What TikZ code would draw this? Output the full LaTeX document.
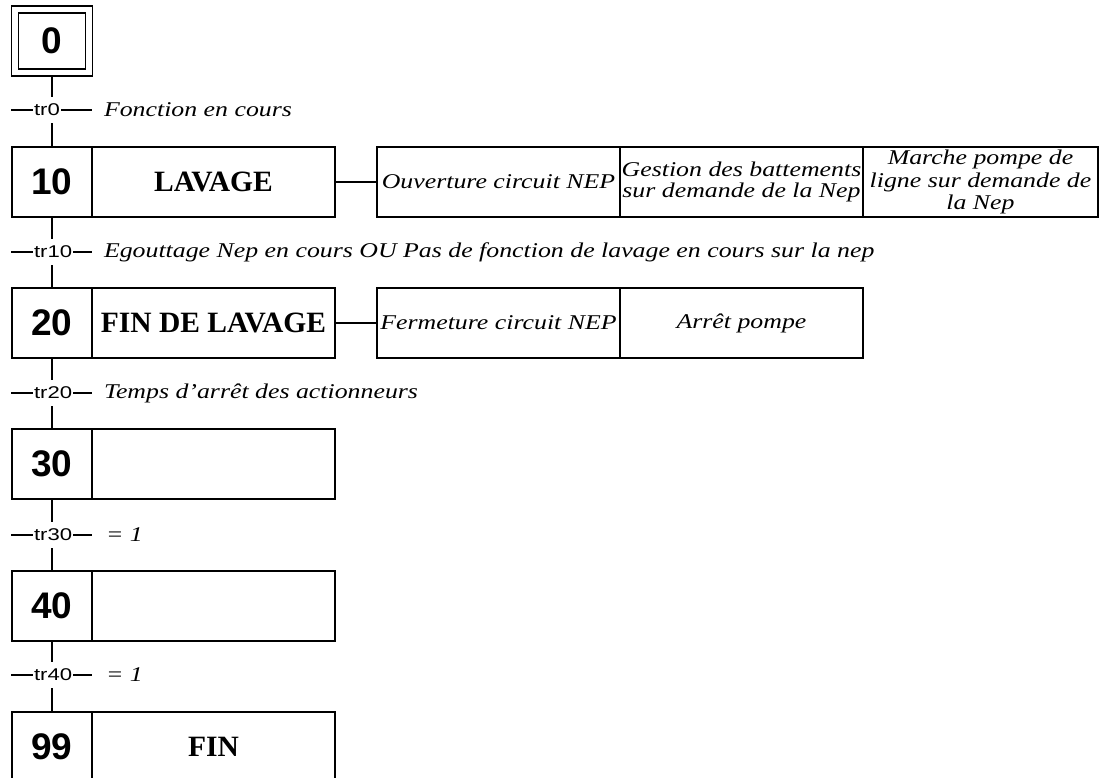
\documentclass[tikz,border=0pt]{standalone}
\usepackage{fontspec}
\setmainfont{Liberation Serif}
\setsansfont{Liberation Sans}
\newfontfamily\condfont[FakeStretch=1.23]{Liberation Serif}
\newfontfamily\trfont[FakeStretch=1.3]{Liberation Sans}
\newfontfamily\numfont{Liberation Sans}
\begin{document}
\begin{tikzpicture}[x=1pt,y=-1pt,
  every node/.style={outer sep=0pt},
  box/.style={draw, line width=2pt, minimum height=70pt, inner sep=0pt},
  stepnum/.style={box, minimum width=80pt, font=\numfont\bfseries\fontsize{37}{37}\selectfont},
  stepname/.style={box, minimum width=243pt, anchor=west, font=\bfseries\fontsize{29.5}{30}\selectfont},
  action/.style={box, minimum width=243pt, anchor=west, align=center, inner xsep=1pt,
    font=\condfont\itshape\fontsize{21}{21.5}\selectfont},
  link/.style={line width=2pt},
  trlabel/.style={fill=white, inner xsep=1pt, inner ysep=7pt, anchor=west,
    font=\trfont\fontsize{17}{17}\selectfont},
  cond/.style={anchor=west, inner sep=0pt, font=\condfont\itshape\fontsize{21}{22}\selectfont}]
\clip (0,0) rectangle (1099,778);
\fill[white] (0,0) rectangle (1099,778);

% initial step
\node[draw, line width=1.8pt, minimum width=81pt, minimum height=70pt] (s0) at (52,41) {};
\node[draw, line width=1.8pt, minimum width=67pt, minimum height=56pt, inner sep=0pt,
  font=\numfont\bfseries\fontsize{37}{37}\selectfont] (n0) at (s0) {0};

% steps
\node[stepnum] (n10) at (52,182) {10};
\node[stepname] (s10) at (n10.east) {LAVAGE};
\node[stepnum] (n20) at (52,323) {20};
\node[stepname] (s20) at (n20.east) {FIN DE LAVAGE};
\node[stepnum] (n30) at (52,464) {30};
\node[stepname] (s30) at (n30.east) {};
\node[stepnum] (n40) at (52,606) {40};
\node[stepname] (s40) at (n40.east) {};
\node[stepnum] (n99) at (52,747) {99};
\node[stepname] (s99) at (n99.east) {FIN};

% actions
\node[action] (a10a) at (377,182) {Ouverture circuit NEP};
\node[action] (a10b) at (a10a.east) {Gestion des battements\\sur demande de la Nep};
\node[action, minimum width=235pt, font=\condfont\itshape\fontsize{21}{22.5}\selectfont] (a10c) at (a10b.east) {Marche pompe de\\ligne sur demande de\\la Nep};
\node[action] (a20a) at (377,323) {Fermeture circuit NEP};
\node[action] (a20b) at (a20a.east) {Arrêt pompe};
\draw[link] (s10.east) -- (a10a.west);
\draw[link] (s20.east) -- (a20a.west);

% links between steps
\draw[link] (s0.south) -- (n10.north);
\draw[link] (n10.south) -- (n20.north);
\draw[link] (n20.south) -- (n30.north);
\draw[link] (n30.south) -- (n40.north);
\draw[link] (n40.south) -- (n99.north);

% transitions
\foreach \t/\y in {0/110, 10/252, 20/393, 30/535, 40/675} {
  \coordinate (t\t) at (52,\y);
  \draw[link] ([xshift=-41pt]t\t) -- ([xshift=40pt]t\t);
  \node[trlabel] (tr\t) at (33,\y) {tr\t};
}
\node[cond] (c0) at (104,110) {Fonction en cours};
\node[cond] (c10) at (104,252) {Egouttage Nep en cours OU Pas de fonction de lavage en cours sur la nep};
\node[cond] (c20) at (104,393) {Temps d’arrêt des actionneurs};
\node[cond] (c30) at (106,535) {= 1};
\node[cond] (c40) at (106,675) {= 1};
\end{tikzpicture}
\end{document}
